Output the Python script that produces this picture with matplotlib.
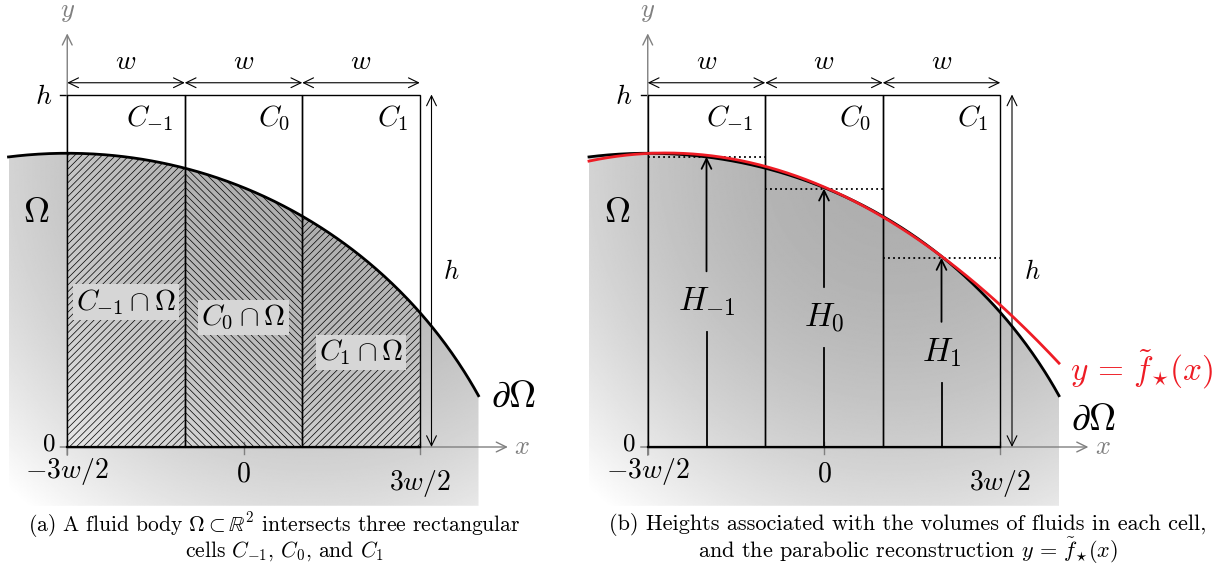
import numpy as np
import matplotlib.pyplot as plt
from matplotlib.patches import Polygon, Rectangle
from matplotlib.collections import LineCollection

plt.rcParams['mathtext.fontset'] = 'cm'
plt.rcParams['font.family'] = 'cmr10'
plt.rcParams['axes.formatter.use_mathtext'] = True

# cells (lengths in units of w)
cell_left = [-1.5, -0.5, 0.5]
cell_index = ['-1', '0', '1']
cell_height = 3.0
x_ticks = [-1.5, 0.0, 1.5]
x_tick_labels = [r'$-3w/2$', r'$0$', r'$3w/2$']
x_tick_label_y = [-0.21, -0.23, -0.31]

# fluid boundary: arc of a circle
arc_center = (-1.5, -1.5)
arc_radius = 4.0
domain_x = (-2.0, 2.0)
domain_bottom = -0.5

# column heights in each cell
heights = [2.47, 2.20, 1.61]

S = 117.5          # pixels per w
Y0 = 447           # pixel row of y = 0
FW, FH = 1213, 565
GRAY = '0.5'


def boundary(x):
    return arc_center[1] + np.sqrt(arc_radius ** 2 - (x - arc_center[0]) ** 2)


def make_axes(fig, ox, left_px, right_px):
    ax = fig.add_axes([left_px / FW, 0, (right_px - left_px) / FW, 1])
    ax.set_xlim((left_px - ox) / S, (right_px - ox) / S)
    ax.set_ylim((Y0 - FH) / S, Y0 / S)
    ax.axis('off')
    return ax


def arrow(ax, p0, p1, style='<->', lw=0.8, color='black'):
    ax.annotate('', xy=p1, xytext=p0,
                arrowprops=dict(arrowstyle=style + ',head_length=0.45,head_width=0.22',
                                mutation_scale=16, shrinkA=0, shrinkB=0,
                                lw=lw, color=color))


def draw_common(ax):
    # shaded fluid body
    xs = np.linspace(domain_x[0], domain_x[1], 300)
    verts = [(domain_x[0], domain_bottom)] + list(zip(xs, boundary(xs))) + [(domain_x[1], domain_bottom)]
    body = Polygon(verts, closed=True, facecolor='none', edgecolor='none', transform=ax.transData)
    gx = np.linspace(domain_x[0], domain_x[1], 400)
    gy = np.linspace(domain_bottom, 2.6, 300)
    X, Y = np.meshgrid(gx, gy)
    d = np.hypot(X - 0.6, Y - 2.4)
    shade = 0.68 + 0.32 * np.clip((d / 3.8) ** 2, 0, 1)
    im = ax.imshow(shade, cmap='gray', vmin=0, vmax=1, origin='lower',
                   extent=[domain_x[0], domain_x[1], domain_bottom, 2.6],
                   interpolation='bilinear', zorder=0)
    im.set_clip_path(body)
    ax.set_aspect('auto')

    # coordinate axes
    x0 = cell_left[0]
    arrow(ax, (x0 - 0.06, 0), (2.25, 0), style='->', lw=1.0, color=GRAY)
    arrow(ax, (x0, -0.07), (x0, 3.52), style='->', lw=1.0, color=GRAY)
    ax.text(2.37, 0, '$x$', color=GRAY, fontsize=19, ha='center', va='center')
    ax.text(x0, 3.7, '$y$', color=GRAY, fontsize=19, ha='center', va='center')
    for xt in x_ticks:
        ax.plot([xt, xt], [-0.06, 0.04], color=GRAY, lw=1.0, zorder=2)
    for xt, lab, yl in zip(x_ticks, x_tick_labels, x_tick_label_y):
        ax.text(xt, yl, lab, fontsize=20, ha='center', va='center')
    ax.plot([x0 - 0.06, x0], [cell_height, cell_height], color='black', lw=1.0)
    ax.text(x0 - 0.13, cell_height - 0.02, '$h$', fontsize=20, ha='right', va='center')
    ax.text(x0 - 0.1, 0.02, '$0$', fontsize=18, ha='right', va='center')

    # cells
    for xl, idx in zip(cell_left, cell_index):
        ax.add_patch(Rectangle((xl, 0), 1.0, cell_height, facecolor='none',
                               edgecolor='black', lw=1.0, zorder=3))
        arrow(ax, (xl, 3.1), (xl + 1.0, 3.1))
        ax.text(xl + 0.5, 3.28, '$w$', fontsize=20, ha='center', va='center')
        ax.text(xl + 0.9, 2.8, '$C_{%s}$' % idx, fontsize=21, ha='right', va='center')
    ax.plot([cell_left[0], cell_left[-1] + 1.0], [0, 0], color='black', lw=1.6, zorder=3)

    # total cell height
    arrow(ax, (1.6, 0), (1.6, cell_height))
    ax.text(1.77, 1.49, '$h$', fontsize=19, ha='center', va='center')

    # fluid interface
    ax.plot(xs, boundary(xs), color='black', lw=2.0, zorder=5)
    ax.text(-1.76, 1.99, r'$\Omega$', fontsize=26, ha='center', va='center')


def hatch_cell(ax, xl, slope, step=0.058):
    xr = xl + 1.0
    xs = np.linspace(xr, xl, 100)
    verts = [(xl, 0), (xr, 0)] + list(zip(xs, boundary(xs)))
    clip = Polygon(verts, closed=True, transform=ax.transData)
    offsets = np.arange(-6.0, 6.0, step)
    segs = [[(xl - 0.1, slope * (xl - 0.1) + c), (xr + 0.1, slope * (xr + 0.1) + c)]
            for c in offsets]
    lc = LineCollection(segs, colors='black', linewidths=0.5, zorder=2)
    lc.set_clip_path(clip)
    ax.add_collection(lc)


fig = plt.figure(figsize=(FW / 100, FH / 100), dpi=100)

# (a) cells intersected by the fluid body
ax = make_axes(fig, 243.5, 0, 580)
draw_common(ax)
for xl, idx, slope, hgt in zip(cell_left, cell_index, [1, -1, 1], heights):
    hatch_cell(ax, xl, slope)
    ax.text(xl + 0.5, hgt / 2, r'$C_{%s}\cap\Omega$' % idx, fontsize=21,
            ha='center', va='center', zorder=6,
            bbox=dict(facecolor='0.84', edgecolor='none', pad=2))
ax.text(2.3, 0.42, r'$\partial\Omega$', fontsize=27, ha='center', va='center')

# (b) column heights and parabolic fit
ax = make_axes(fig, 824, 580, FW)
draw_common(ax)
centers = np.array(cell_left) + 0.5
for xc, idx, hgt in zip(centers, cell_index, heights):
    ax.plot([xc - 0.5, xc + 0.5], [hgt, hgt], color='black', lw=1.3, ls=(0, (1, 1.8)), zorder=4)
    gap = 0.26
    ax.plot([xc, xc], [0, hgt / 2 - gap], color='black', lw=1.3, zorder=4)
    arrow(ax, (xc, hgt / 2 + gap), (xc, hgt), style='->', lw=1.3)
    ax.text(xc, hgt / 2, '$H_{%s}$' % idx, fontsize=24, ha='center', va='center')

# parabola matching the cell averages
Hm, H0, Hp = heights
c2 = (Hp + Hm - 2 * H0) / 2
c1 = (Hp - Hm) / 2
c0 = H0 - c2 / 12
xs = np.linspace(domain_x[0], domain_x[1], 200)
ax.plot(xs, c0 + c1 * xs + c2 * xs ** 2, color='#ee1c25', lw=2.0, zorder=6)
ax.text(2.09, 0.66, r'$y\,=\,\tilde{f}_{\star}(x)$', color='#ee1c25', fontsize=24,
        ha='left', va='center')
ax.text(2.29, 0.23, r'$\partial\Omega$', fontsize=27, ha='center', va='center')

fig.text(274 / FW, 1 - 525 / FH,
         r'(a) A fluid body $\Omega \subset \mathbb{R}^2$ intersects three rectangular',
         fontsize=15.5, ha='center', va='center')
fig.text(284 / FW, 1 - 551 / FH, r'cells $C_{-1}$, $C_0$, and $C_1$',
         fontsize=15.5, ha='center', va='center')
fig.text(908 / FW, 1 - 525 / FH,
         '(b) Heights associated with the volumes of fluids in each cell,',
         fontsize=16, ha='center', va='center')
fig.text(908 / FW, 1 - 551 / FH, r'and the parabolic reconstruction $y\,=\,\tilde{f}_{\star}(x)$',
         fontsize=16, ha='center', va='center')

fig.savefig('out.png', dpi=100)
